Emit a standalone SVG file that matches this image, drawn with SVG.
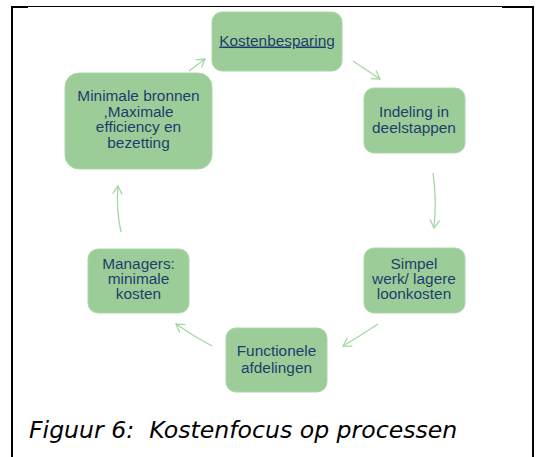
<svg xmlns="http://www.w3.org/2000/svg" width="540" height="457" viewBox="0 0 540 457">
<defs>
<style>
.box{fill:#9CCD99;stroke:#ABD6A8;stroke-width:1}
.t{font-family:"Liberation Sans",Arial,sans-serif;font-size:15.4px;fill:#1F3D6B;text-anchor:middle}
.c{fill:none;stroke:#A6D6A3;stroke-width:1.3}
.cap{font-family:"DejaVu Sans",Verdana,sans-serif;font-style:italic;font-size:23.6px;fill:#000;white-space:pre}
</style>
<marker id="ah" viewBox="-10 -6 12 12" markerWidth="12" markerHeight="12" refX="0" refY="0" orient="auto" markerUnits="userSpaceOnUse" overflow="visible">
<path d="M-8,-4.8 L0,0 L-8,4.8" fill="none" stroke="#A6D6A3" stroke-width="1.3"/>
</marker>
</defs>
<rect width="540" height="457" fill="#fff"/>
<g id="frame" fill="#000">
<rect x="11" y="6" width="2" height="451"/>
<rect x="11" y="6" width="17" height="2"/>
<rect x="28" y="6" width="474" height="1"/>
<rect x="502" y="6" width="32" height="2"/>
<rect x="532" y="6" width="2" height="451"/>
</g>
<g id="connectors">
<path class="c" d="M189,71 L205,59" marker-end="url(#ah)"/>
<path class="c" d="M353,61 L380,79" marker-end="url(#ah)"/>
<path class="c" d="M433,173 Q437,200 434,228" marker-end="url(#ah)"/>
<path class="c" d="M378,324 Q360,336 343,346" marker-end="url(#ah)"/>
<path class="c" d="M212,346 Q193,336 176,324" marker-end="url(#ah)"/>
<path class="c" d="M121,232 Q116,210 118,186" marker-end="url(#ah)"/>
</g>
<g id="kostenbesparing">
<rect class="box" x="212" y="12" width="130" height="59" rx="10"/>
<text class="t" x="277" y="45.5" text-decoration="underline">Kostenbesparing</text>
</g>
<g id="indeling">
<rect class="box" x="364" y="88" width="101" height="65" rx="10"/>
<text class="t" x="414" y="116.5">Indeling in</text>
<text class="t" x="414" y="133">deelstappen</text>
</g>
<g id="simpel">
<rect class="box" x="364" y="248" width="101" height="65" rx="10"/>
<text class="t" x="414" y="269.3">Simpel</text>
<text class="t" x="414" y="284.3">werk/ lagere</text>
<text class="t" x="414" y="299.3">loonkosten</text>
</g>
<g id="functionele">
<rect class="box" x="226" y="328" width="101" height="64" rx="10"/>
<text class="t" x="276.5" y="356">Functionele</text>
<text class="t" x="276.5" y="372.5">afdelingen</text>
</g>
<g id="managers">
<rect class="box" x="88" y="249" width="101" height="64" rx="10"/>
<text class="t" x="138.5" y="269">Managers:</text>
<text class="t" x="138.5" y="284.3">minimale</text>
<text class="t" x="138.5" y="299.3">kosten</text>
</g>
<g id="minimale">
<rect class="box" x="65" y="73" width="147" height="96" rx="14"/>
<text class="t" x="138.5" y="100.7">Minimale bronnen</text>
<text class="t" x="138.5" y="116.5">,Maximale</text>
<text class="t" x="138.5" y="132.3">efficiency en</text>
<text class="t" x="138.5" y="147.5">bezetting</text>
</g>
<text class="cap" x="29" y="438" xml:space="preserve">Figuur 6:  Kostenfocus op processen</text>
</svg>
